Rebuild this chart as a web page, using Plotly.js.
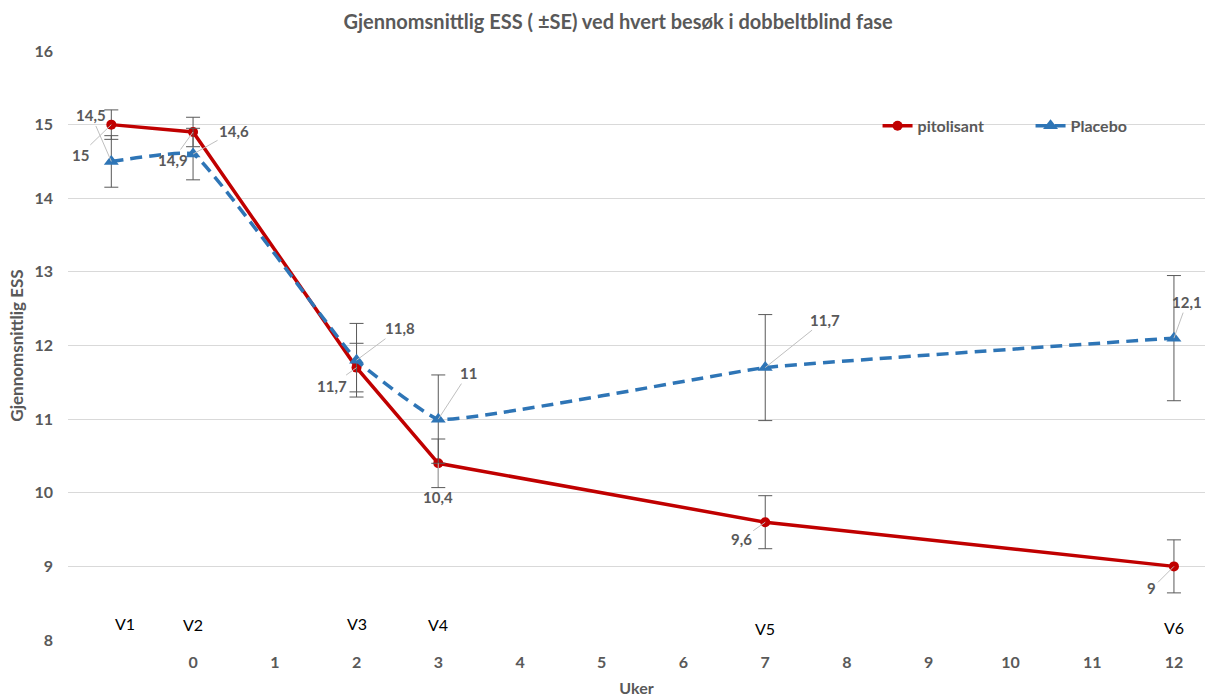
<!DOCTYPE html>
<html>
<head>
<meta charset="utf-8">
<script src="https://cdn.plot.ly/plotly-3.0.1.min.js"></script>
<style>html,body{margin:0;padding:0;background:#fff}#chart{width:1205px;height:700px}</style>
</head>
<body>
<div id="chart"></div>
<script>
// ---- data ----
const weeks = [-1, 0, 2, 3, 7, 12];
const pitolisant = [15, 14.9, 11.7, 10.4, 9.6, 9];
const pitolisantSE = [0.2, 0.2, 0.33, 0.33, 0.36, 0.36];
const placebo = [14.5, 14.6, 11.8, 11, 11.7, 12.1];
const placeboSE = [0.35, 0.35, 0.5, 0.6, 0.72, 0.85];
const pitolisantLabels = ["15", "14,9", "11,7", "10,4", "9,6", "9"];
const placeboLabels = ["14,5", "14,6", "11,8", "11", "11,7", "12,1"];
const visitNames = ["V1", "V2", "V3", "V4", "V5", "V6"];
const visitX = [-0.83, 0, 2, 3, 7, 12];
const visitY = [8.23, 8.21, 8.23, 8.21, 8.15, 8.17];
const xTicks = [0, 1, 2, 3, 4, 5, 6, 7, 8, 9, 10, 11, 12];

// label offsets in pixels (style only)
const pitoOff = [[-31, 30], [-20, 28], [-25, 18], [0, 34], [-24, 17], [-22, 22]];
const placOff = [[-20, -46], [41, -23], [43, -32], [30, -46], [60, -48], [13, -36]];

const FONT = 'Lato, "Open Sans", sans-serif';
const GREY = '#595959';

const traces = [
  {
    x: weeks, y: pitolisant, name: 'pitolisant', type: 'scatter', mode: 'lines+markers',
    line: {color: '#C00000', width: 3.5},
    marker: {symbol: 'circle', size: 10, color: '#C00000'},
    error_y: {type: 'data', array: pitolisantSE, visible: true, color: GREY, thickness: 1, width: 7}
  },
  {
    x: weeks, y: placebo, name: 'Placebo', type: 'scatter', mode: 'lines+markers',
    line: {color: '#2E75B6', width: 3.5, dash: '12px,7px', shape: 'spline', smoothing: 0.3},
    marker: {symbol: 'triangle-up', size: 13, color: '#2E75B6'},
    error_y: {type: 'data', array: placeboSE, visible: true, color: GREY, thickness: 1, width: 7}
  }
];

const annotations = [];
weeks.forEach((w, i) => {
  annotations.push({x: w, y: pitolisant[i], xref: 'x', yref: 'y', text: pitolisantLabels[i],
    showarrow: true, arrowhead: 0, arrowwidth: 1, arrowcolor: '#bfbfbf', standoff: 0,
    ax: pitoOff[i][0], ay: pitoOff[i][1], font: {family: FONT, size: 15, color: GREY, weight: 'bold'}});
  annotations.push({x: w, y: placebo[i], xref: 'x', yref: 'y', text: placeboLabels[i],
    showarrow: true, arrowhead: 0, arrowwidth: 1, arrowcolor: '#bfbfbf', standoff: 0,
    ax: placOff[i][0], ay: placOff[i][1], font: {family: FONT, size: 15, color: GREY, weight: 'bold'}});
});
visitNames.forEach((v, i) => {
  annotations.push({x: visitX[i], y: visitY[i], xref: 'x', yref: 'y', text: v, showarrow: false,
    font: {family: FONT, size: 16, color: '#000000'}});
});

const layout = {
  width: 1205, height: 700,
  margin: {l: 68, r: 0, t: 51, b: 60},
  paper_bgcolor: '#ffffff', plot_bgcolor: '#ffffff',
  font: {family: FONT, color: GREY},
  title: {text: 'Gjennomsnittlig ESS ( ±SE) ved hvert besøk i dobbeltblind fase',
    font: {family: FONT, size: 20, color: GREY, weight: 'bold'}, x: 0.513, xanchor: 'center', y: 0.968, yanchor: 'middle'},
  xaxis: {
    range: [-1.53, 12.38], tickvals: xTicks, ticktext: xTicks.map(String),
    showgrid: false, zeroline: false, showline: false, ticks: '',
    ticklabelstandoff: 11,
    tickfont: {family: FONT, size: 16, color: GREY, weight: 'bold'},
    title: {text: 'Uker', font: {family: FONT, size: 16, color: GREY, weight: 'bold'}, standoff: 12}
  },
  yaxis: {
    range: [8, 16], dtick: 1, showgrid: true, gridcolor: '#d9d9d9', gridwidth: 1,
    zeroline: false, showline: false, ticks: '', ticklabelstandoff: 14,
    tickfont: {family: FONT, size: 16, color: GREY, weight: 'bold'},
    title: {text: 'Gjennomsnittlig ESS', font: {family: FONT, size: 17, color: GREY, weight: 'bold'}, standoff: 6}
  },
  showlegend: true,
  legend: {orientation: 'h', x: 0.712, xanchor: 'left', y: 0.873, yanchor: 'middle',
    font: {family: FONT, size: 16, color: GREY, weight: 'bold'}, bgcolor: 'rgba(0,0,0,0)',
    entrywidth: 108, entrywidthmode: 'pixels'},
  annotations: annotations
};

Plotly.newPlot('chart', traces, layout, {displayModeBar: false, staticPlot: true});
</script>
</body>
</html>
